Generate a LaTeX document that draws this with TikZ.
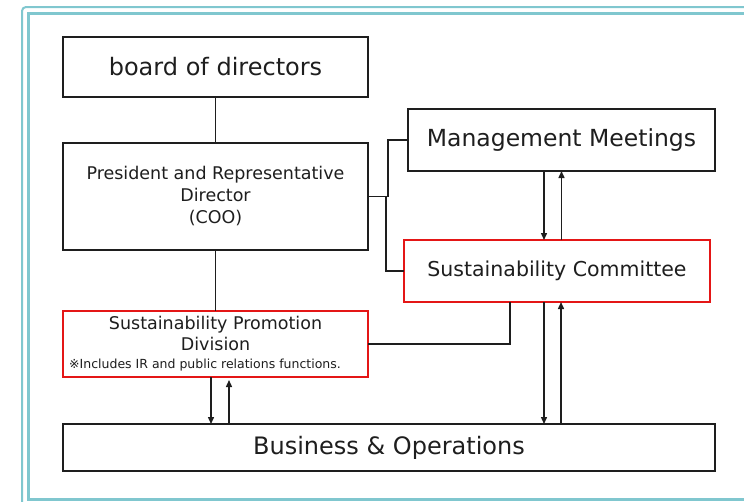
\documentclass[tikz,border=0pt]{standalone}
\usepackage{fontspec}
\setmainfont{DejaVu Sans}
\usetikzlibrary{arrows.meta}
\definecolor{frameteal}{RGB}{128,199,207}
\definecolor{boxred}{RGB}{228,22,22}
\definecolor{ink}{RGB}{30,30,30}
\begin{document}
\begin{tikzpicture}[x=1pt,y=-1pt,
  blk/.style={draw=ink,line width=1.3pt,fill=white,anchor=north west,inner sep=0pt,outer sep=0pt,align=center,text=ink},
  redbox/.style={blk,draw=boxred,line width=2pt},
  conn/.style={draw=ink,line width=1.4pt},
  arr/.style={conn,-{Triangle[length=7pt,width=6pt]}},
  big/.style={font=\fontsize{24}{28}\selectfont}
]
\useasboundingbox (0,0) rectangle (744,501);
\clip (0,0) rectangle (744,501);
% frame
\draw[frameteal,line width=2pt,rounded corners=4pt] (22,7) rectangle (780,530);
\draw[frameteal,line width=3pt] (28.5,13.5) rectangle (780,499.5);
% boxes
\node[blk,big,minimum width=305pt,minimum height=60pt] (bod) at (63,37) {board of directors};
\node[blk,minimum width=305pt,minimum height=107pt,font=\fontsize{17.5}{22}\selectfont] (pres) at (63,143)
  {President and Representative\\Director\\(COO)};
\node[blk,minimum width=307pt,minimum height=62pt,font=\fontsize{23.5}{27}\selectfont] (mm) at (408,109) {Management Meetings};
\node[redbox,minimum width=306pt,minimum height=62pt,font=\fontsize{20.5}{25}\selectfont] (sc) at (404,240) {Sustainability Committee};
\node[redbox,minimum width=305pt,minimum height=66pt,font=\fontsize{17.5}{21}\selectfont] (spd) at (63,311)
  {Sustainability Promotion\\Division\\[-3pt]\fontsize{12.5}{14}\selectfont\kern-21pt ※Includes IR and public relations functions.};
\node[blk,big,minimum width=652pt,minimum height=47pt] (bus) at (63,424) {Business \& Operations};
% connectors
\draw[conn] (bod.south) -- (pres.north);
\draw[conn] (pres.south) -- (spd.north);
\draw[conn] (pres.east) -- ++(20,0) |- (mm.west);
\draw[conn] ([xshift=18pt]pres.east) |- (sc.west);
\draw[conn] ([xshift=-47pt]sc.south) |- (spd.east);
% arrows MM <-> SC
\draw[arr] ([xshift=-17.5pt]mm.south) -- ([xshift=-17.5pt]mm.south |- sc.north);
\draw[arr] (mm.south |- sc.north) -- (mm.south);
% arrows SC <-> Business
\draw[arr] ([xshift=-13pt]sc.south) -- ([xshift=-13pt]sc.south |- bus.north);
\draw[arr] ([xshift=4pt]sc.south |- bus.north) -- ([xshift=4pt]sc.south);
% arrows SPD <-> Business
\draw[arr] ([xshift=-4.5pt]spd.south) -- ([xshift=-4.5pt]spd.south |- bus.north);
\draw[arr] ([xshift=13.5pt]spd.south |- bus.north) -- ([xshift=13.5pt,yshift=-3pt]spd.south);
\end{tikzpicture}
\end{document}
